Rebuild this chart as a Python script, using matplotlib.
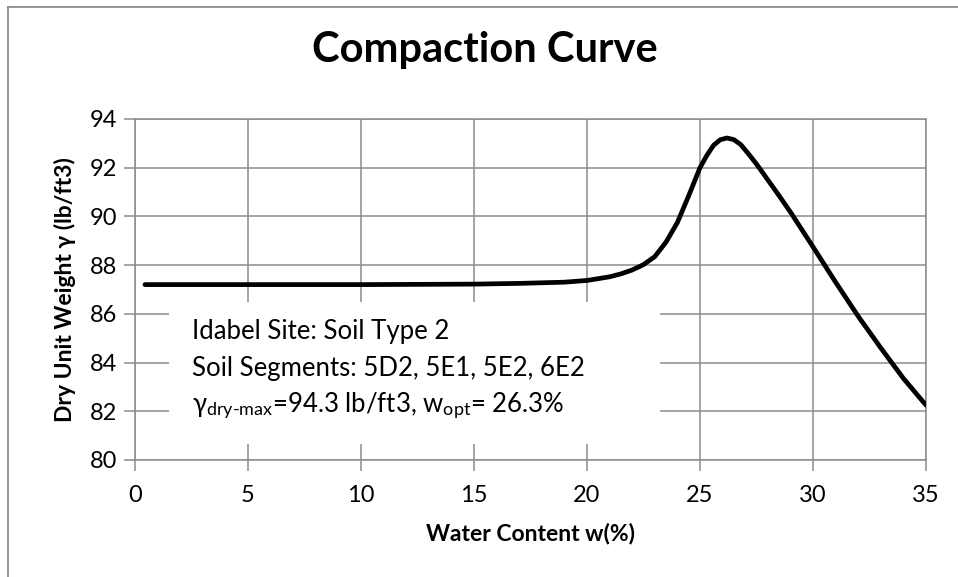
import matplotlib
matplotlib.use("Agg")
import matplotlib.pyplot as plt
from matplotlib.patches import Rectangle
from matplotlib.lines import Line2D

plt.rcParams['font.family'] = ['Lato', 'DejaVu Sans']
plt.rcParams['mathtext.fontset'] = 'custom'
plt.rcParams['mathtext.rm'] = 'Lato'
plt.rcParams['mathtext.it'] = 'Lato:italic'
plt.rcParams['mathtext.bf'] = 'Lato:bold'

# data
water_content = [0.44, 5, 10, 15, 17, 19, 20, 21, 21.5, 22, 22.5, 23, 23.5, 24, 24.5,
                 25, 25.3, 25.6, 25.9, 26.2, 26.5, 26.8, 27.1, 27.5, 28, 28.5, 29,
                 30, 31, 32, 33, 34, 35]
dry_unit_weight = [87.2, 87.2, 87.2, 87.22, 87.25, 87.3, 87.37, 87.52, 87.64, 87.8,
                   88.02, 88.35, 88.95, 89.75, 90.85, 92.0, 92.5, 92.92, 93.15, 93.22,
                   93.15, 92.95, 92.62, 92.15, 91.5, 90.85, 90.18, 88.75, 87.3,
                   85.9, 84.6, 83.35, 82.25]
x_ticks = [0, 5, 10, 15, 20, 25, 30, 35]
y_ticks = [80, 82, 84, 86, 88, 90, 92, 94]
title = "Compaction Curve"
x_label = "Water Content w(%)"
y_label = "Dry Unit Weight γ (lb/ft3)"
note_lines = ["Idabel Site: Soil Type 2",
              "Soil Segments: 5D2, 5E1, 5E2, 6E2",
              r"γ$_{\text{dry-max}}$=94.3 lb/ft3, w$_{\text{opt}}$= 26.3%"]

fig = plt.figure(figsize=(9.58, 5.77), dpi=100)
ax = fig.add_axes([0.1409, 0.2028, 0.8257, 0.591])

grid_c = '#8c8c8c'
ax.plot(water_content, dry_unit_weight, color='black', lw=3.4,
        solid_capstyle='round', solid_joinstyle='round', zorder=4)
ax.set_xlim(0, 35)
ax.set_ylim(80, 94)
ax.set_xticks(x_ticks)
ax.set_yticks(y_ticks)
ax.grid(True, color=grid_c, lw=1.1, zorder=1)
ax.set_axisbelow(True)
for s in ax.spines.values():
    s.set_color(grid_c)
    s.set_linewidth(1.1)
ax.tick_params(axis='both', direction='out', length=8, width=1.1, color=grid_c,
               labelsize=17, pad=5)
ax.tick_params(axis='x', pad=10)

# white annotation box covering grid
ax.add_patch(Rectangle((0.043, 0.047), 0.621, 0.416, transform=ax.transAxes,
                       facecolor='white', edgecolor='none', zorder=2))
for i, line in enumerate(note_lines):
    ax.text(0.072, 0.378 - i * 0.11, line, transform=ax.transAxes,
            fontsize=18.5, va='center', ha='left', zorder=3)

ax.set_xlabel(x_label, fontsize=16.5, fontweight='bold', labelpad=12)
ax.set_ylabel(y_label, fontsize=16.5, fontweight='bold', labelpad=10)
fig.text(0.506, 0.913, title, fontsize=30, fontweight='bold', ha='center', va='center')

# chart-area border (top and left visible)
fig.add_artist(Line2D([0.0085, 1.0], [0.9875, 0.9875], transform=fig.transFigure,
                      color='#8c8c8c', lw=1.3))
fig.add_artist(Line2D([0.0085, 0.0085], [0.0, 0.9875], transform=fig.transFigure,
                      color='#8c8c8c', lw=1.3))

fig.savefig('out.png', dpi=100)
